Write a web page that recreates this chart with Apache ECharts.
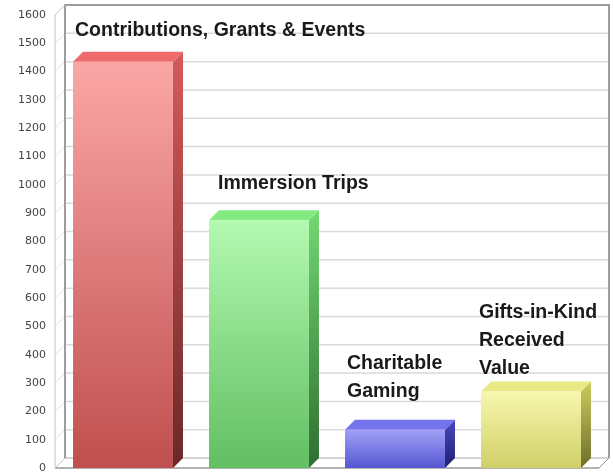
<!DOCTYPE html>
<html>
<head>
<meta charset="utf-8">
<script src="https://cdn.jsdelivr.net/npm/echarts@6/dist/echarts.min.js"></script>
<style>
html,body{margin:0;padding:0;background:#fff;}
#chart{width:613px;height:476px;}
</style>
</head>
<body>
<div id="chart"></div>
<script>
// ---- data ----
const categories = ['Contributions, Grants & Events', 'Immersion Trips', 'Charitable\nGaming', 'Gifts-in-Kind\nReceived\nValue'];
const values = [1435, 875, 135, 270];
const yMin = 0, yMax = 1600, yStep = 100;

// ---- style ----
const DEPTH = 10;
const palette = [
  {front: ['#fba6a6', '#c04f4f'], side: ['#d65a5a', '#6a2828'], top: '#ef6b6b'},
  {front: ['#b3f9b1', '#62bf62'], side: ['#72d872', '#2f6e30'], top: '#82ea80'},
  {front: ['#a0a0f7', '#5656d2'], side: ['#4848c0', '#1f1f70'], top: '#7474ec'},
  {front: ['#f7f7ae', '#d0d068'], side: ['#cccc5e', '#6e6e2c'], top: '#eaea84'}
];
const labelOffsets = [[2, -7], [9, -13], [2, -14], [-2, 1]];

const chart = echarts.init(document.getElementById('chart'), null, {renderer: 'canvas'});

function grad(c) {
  return new echarts.graphic.LinearGradient(0, 0, 0, 1, [{offset: 0, color: c[0]}, {offset: 1, color: c[1]}]);
}

function renderWalls(params, api) {
  const cs = params.coordSys;
  const L = cs.x, R = cs.x + cs.width;
  const yTop = api.coord([0, yMax])[1];
  const yBot = api.coord([0, yMin])[1];
  const ch = [];
  for (let v = yMin; v <= yMax; v += yStep) {
    const y = api.coord([0, v])[1];
    if (v !== yMax && v !== yMin) {
      ch.push({type: 'line', shape: {x1: L + DEPTH, y1: y - DEPTH, x2: R + DEPTH, y2: y - DEPTH}, style: {stroke: '#d9d9d9', lineWidth: 1.5}});
    }
    ch.push({type: 'line', shape: {x1: L, y1: y, x2: L + DEPTH, y2: y - DEPTH}, style: {stroke: '#e4e4e4', lineWidth: 1}});
  }
  ch.push({type: 'line', shape: {x1: L + DEPTH, y1: yBot - DEPTH, x2: R + DEPTH, y2: yBot - DEPTH}, style: {stroke: '#a8a8a8', lineWidth: 1}});
  ch.push({type: 'line', shape: {x1: L, y1: yBot, x2: R, y2: yBot}, style: {stroke: '#9a9a9a', lineWidth: 1.5}});
  ch.push({type: 'line', shape: {x1: R, y1: yBot, x2: R + DEPTH, y2: yBot - DEPTH}, style: {stroke: '#9a9a9a', lineWidth: 1}});
  ch.push({type: 'polyline', shape: {points: [[L + DEPTH, yBot - DEPTH], [L + DEPTH, yTop - DEPTH], [R + DEPTH, yTop - DEPTH], [R + DEPTH, yBot - DEPTH]]}, style: {stroke: '#9c9c9c', lineWidth: 2, fill: null}});
  ch.push({type: 'polyline', shape: {points: [[L + DEPTH, yBot - DEPTH], [L, yBot], [L, yTop], [L + DEPTH, yTop - DEPTH]]}, style: {stroke: '#c4c4c4', lineWidth: 1, fill: null}});
  return {type: 'group', children: ch};
}

function renderBar(params, api) {
  const i = api.value(0);
  const v = api.value(1);
  const top = api.coord([i, v]);
  const base = api.coord([i, 0]);
  const w = api.size([1, 0])[0] * 0.735;
  const x0 = top[0] - w / 2, x1 = top[0] + w / 2;
  const yT = top[1], yB = base[1];
  const p = palette[i];
  const off = labelOffsets[i];
  return {
    type: 'group',
    children: [
      {type: 'polygon', shape: {points: [[x1, yT], [x1 + DEPTH, yT - DEPTH], [x1 + DEPTH, yB - DEPTH], [x1, yB]]}, style: {fill: grad(p.side)}},
      {type: 'polygon', shape: {points: [[x0, yT], [x0 + DEPTH, yT - DEPTH], [x1 + DEPTH, yT - DEPTH], [x1, yT]]}, style: {fill: p.top}},
      {type: 'rect', shape: {x: x0, y: yT, width: w, height: yB - yT}, style: {fill: grad(p.front)}},
      {type: 'text', x: x0 + off[0], y: yT - DEPTH + off[1],
        style: {text: categories[i], fill: '#1a1a1a', font: 'bold 19.5px "Liberation Sans", Arial, sans-serif', lineHeight: 28, align: 'left', verticalAlign: 'bottom'}}
    ]
  };
}

chart.setOption({
  animation: false,
  backgroundColor: '#ffffff',
  grid: {left: 55, right: 14, top: 15, bottom: 8, containLabel: false},
  xAxis: {type: 'category', data: categories, show: false},
  yAxis: {
    type: 'value', min: yMin, max: yMax, interval: yStep,
    axisLine: {show: false}, axisTick: {show: false}, splitLine: {show: false},
    axisLabel: {margin: 9, color: '#444', fontSize: 11, fontFamily: 'DejaVu Sans', formatter: function (v) { return String(v); }}
  },
  series: [
    {type: 'custom', renderItem: renderWalls, data: [[0, 0]], silent: true, z: 1},
    {type: 'custom', renderItem: renderBar, data: values.map((v, i) => [i, v]), z: 2}
  ]
});
</script>
</body>
</html>
